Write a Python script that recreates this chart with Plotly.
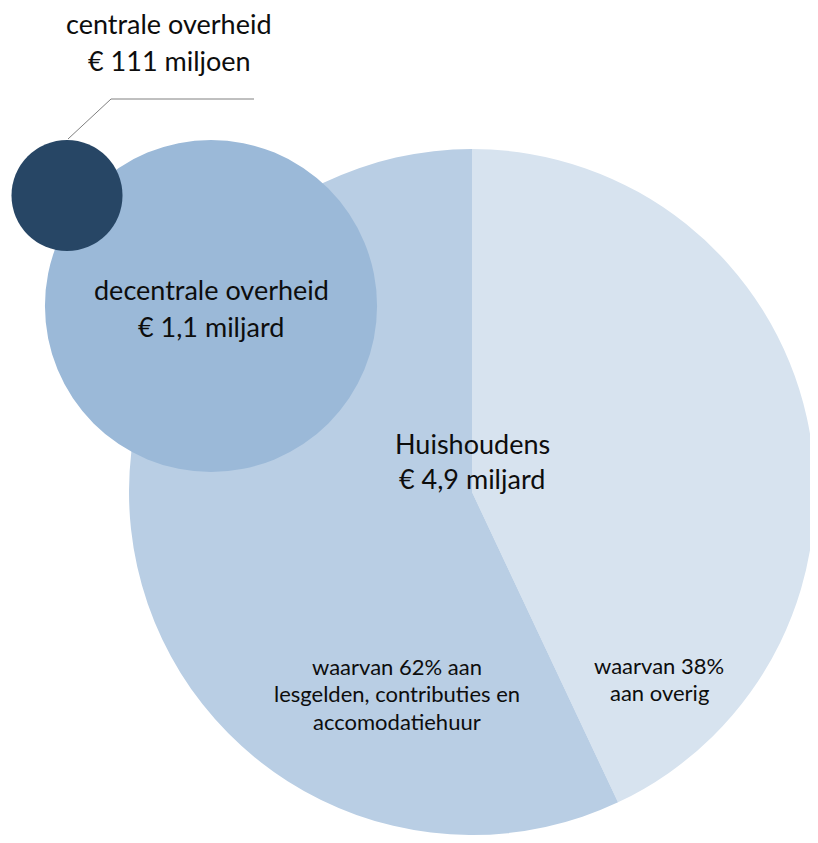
import plotly.graph_objects as go

# ---------------- data ----------------
huishoudens_labels = ["overig", "lesgelden, contributies en accomodatiehuur"]
huishoudens_shares = [43, 57]          # slice sizes as drawn in the picture
bubble_labels = ["decentrale overheid", "centrale overheid"]
bubble_values = [1.1, 0.111]           # miljard euro
huishoudens_total = 4.9                # miljard euro

# ---------------- layout constants (pixels, page coordinates) ----------------
PAGE_W, PAGE_H = 818, 843
OFF = 8                                # default body margin of the html page
W, H = PAGE_W - OFF, PAGE_H - 2 * OFF
FONT = "Lato, 'Open Sans', sans-serif"
TXT = "#0d0d0d"

def px(x):
    return (x - OFF) / W

def py(y):
    return 1 - (y - OFF) / H

def dom(cx, cy, r):
    return dict(x=[max(0, px(cx - r)), min(1, px(cx + r))],
                y=[max(0, py(cy + r)), min(1, py(cy - r))])

big = (472, 492, 343)
dec = (211, 306, 166)
cen = (67, 195.5, 55.5)

fig = go.Figure()
fig.add_trace(go.Pie(
    labels=huishoudens_labels, values=huishoudens_shares,
    sort=False, direction="clockwise", rotation=0,
    marker=dict(colors=["#d7e3ef", "#b9cee4"], line=dict(width=0)),
    textinfo="none", hoverinfo="label", showlegend=False,
    domain=dom(*big),
))
fig.add_trace(go.Pie(
    labels=[bubble_labels[0]], values=[bubble_values[0]],
    marker=dict(colors=["#9bb9d8"], line=dict(width=0)),
    textinfo="none", hoverinfo="label", showlegend=False,
    domain=dom(*dec),
))
fig.add_trace(go.Pie(
    labels=[bubble_labels[1]], values=[bubble_values[1]],
    marker=dict(colors=["#274665"], line=dict(width=0)),
    textinfo="none", hoverinfo="label", showlegend=False,
    domain=dom(*cen),
))

def ann(text, x, y, size):
    return dict(text=text, x=px(x), y=py(y), xref="paper", yref="paper",
                xanchor="center", yanchor="middle", showarrow=False,
                font=dict(family=FONT, size=size, color=TXT))

BIG, SMALL = 27, 22
annotations = [
    ann("centrale overheid", 169, 24, BIG),
    ann("€ 111 miljoen", 169, 60, BIG),
    ann("decentrale overheid", 211, 289, BIG),
    ann("€ 1,1 miljard", 211, 326, BIG),
    ann("Huishoudens", 472, 443, BIG),
    ann("€ 4,9 miljard", 472, 478, BIG),
    ann("waarvan 62% aan", 397, 666, SMALL),
    ann("lesgelden, contributies en", 397, 693, SMALL),
    ann("accomodatiehuur", 397, 721, SMALL),
    ann("waarvan 38%", 659, 665, SMALL),
    ann("aan overig", 659, 692, SMALL),
]

leader = dict(type="path", xref="paper", yref="paper",
              path=f"M {px(68)},{py(139)} L {px(111)},{py(99)} L {px(254)},{py(99)}",
              line=dict(color="#808080", width=1))

fig.update_layout(
    width=W, height=H,
    margin=dict(l=0, r=0, t=0, b=0),
    paper_bgcolor="white", plot_bgcolor="white",
    annotations=annotations, shapes=[leader],
    showlegend=False,
)

fig.write_html("out.html")
